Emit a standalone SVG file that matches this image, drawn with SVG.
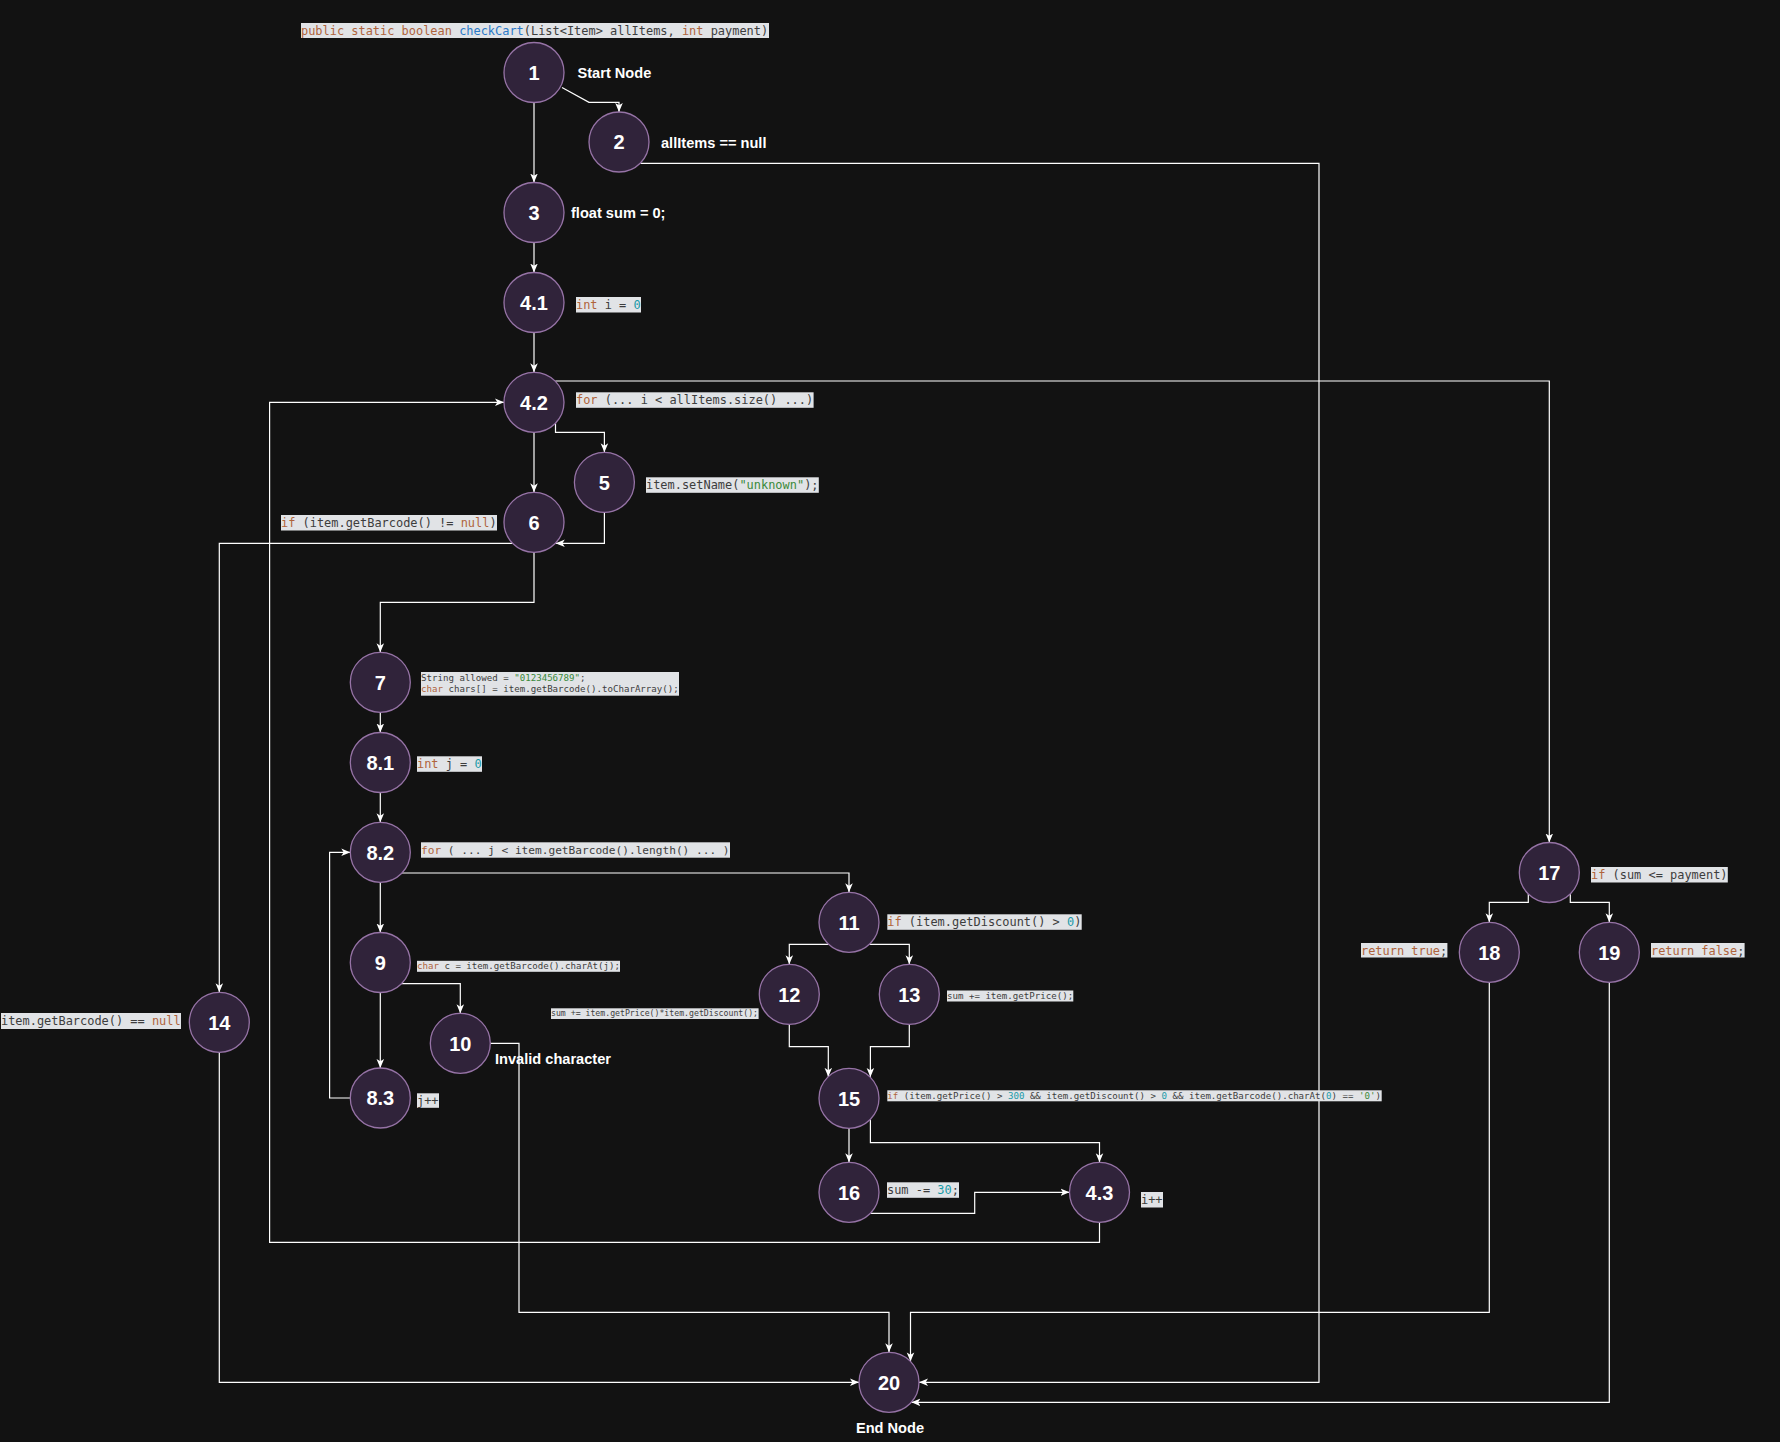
<svg xmlns="http://www.w3.org/2000/svg" width="1780" height="1442" viewBox="0 0 1780 1442">
<defs>
<marker id="arr" viewBox="0 0 10 10" refX="10" refY="5" markerWidth="9" markerHeight="9" markerUnits="userSpaceOnUse" orient="auto">
<path d="M0,0.8 L10,5 L0,9.2 L2.6,5 Z" fill="#ffffff"/>
</marker>
<style>
.node circle{fill:#30233a;stroke:#9673a6;stroke-width:1.3}
.num{font-family:"Liberation Sans",Arial,sans-serif;font-weight:bold;font-size:20px;fill:#ffffff;text-anchor:middle}
.lbl{font-family:"Liberation Sans",Arial,sans-serif;font-weight:bold;font-size:14.6px;fill:#ffffff}
.cb{fill:#e1e3e6}
.code{font-family:"DejaVu Sans Mono","Liberation Mono",monospace;font-size:11.95px;fill:#3d3d3d;white-space:pre}
.k{fill:#b0643c}
.b{fill:#2a79c8}
.n{fill:#1a9aa8}
.s{fill:#3a8a3a}
#edges path{fill:none;stroke:#ffffff;stroke-width:1.2;marker-end:url(#arr)}
</style>
</defs>
<rect x="0" y="0" width="1780" height="1442" fill="#121212"/>

<g id="title">
<rect class="cb" x="301" y="23" width="468" height="15"/>
<text class="code" x="301" y="34.5"><tspan class="k">public static boolean </tspan><tspan class="b">checkCart</tspan><tspan>(List&lt;Item&gt; allItems, </tspan><tspan class="k">int</tspan><tspan> payment)</tspan></text>
</g>

<g id="edges">
<path d="M562,87.5 L589,102.3 L619,102.3 L619,112"/>
<path d="M534,102.5 L534,182.5"/>
<path d="M534,242.5 L534,272.5"/>
<path d="M534,332.5 L534,372.3"/>
<path d="M555.5,423.2 L555.5,432.3 L604.4,432.3 L604.4,452.3"/>
<path d="M534,432.3 L534,492.3"/>
<path d="M604.4,512.3 L604.4,543.3 L555.8,543.3"/>
<path d="M534,552.3 L534,602.3 L380.3,602.3 L380.3,652.3"/>
<path d="M512.6,543.3 L219.3,543.3 L219.3,992.3"/>
<path d="M555.3,381 L1549.3,381 L1549.3,842.5"/>
<path d="M640.4,163.3 L1319,163.3 L1319,1382.3 L919,1382.3"/>
<path d="M380.3,712.3 L380.3,732.5"/>
<path d="M380.3,792.5 L380.3,822.3"/>
<path d="M380.3,882.3 L380.3,932.5"/>
<path d="M402,873 L849,873 L849,892.3"/>
<path d="M401.5,983.7 L460.3,983.7 L460.3,1013.3"/>
<path d="M380.3,992.5 L380.3,1068"/>
<path d="M350.3,1098 L329.6,1098 L329.6,852.3 L350.3,852.3"/>
<path d="M490.3,1043.3 L519,1043.3 L519,1312.3 L889,1312.3 L889,1352.3"/>
<path d="M828.6,944.3 L789.3,944.3 L789.3,964.3"/>
<path d="M869.4,944.3 L909.3,944.3 L909.3,964.3"/>
<path d="M789.3,1024.3 L789.3,1046.7 L828.3,1046.7 L828.3,1076.8"/>
<path d="M909.3,1024.3 L909.3,1046.7 L870.4,1046.7 L870.4,1077"/>
<path d="M849,1128.3 L849,1162.3"/>
<path d="M870.4,1119.3 L870.4,1142.7 L1099.5,1142.7 L1099.5,1162.3"/>
<path d="M870.4,1213.3 L974.7,1213.3 L974.7,1192.3 L1069.5,1192.3"/>
<path d="M1099.5,1222.3 L1099.5,1242.3 L269.6,1242.3 L269.6,402.3 L504,402.3"/>
<path d="M219.3,1052.3 L219.3,1382.3 L859,1382.3"/>
<path d="M1528.3,894 L1528.3,902.3 L1489.3,902.3 L1489.3,922.3"/>
<path d="M1570.3,894 L1570.3,902.3 L1609.3,902.3 L1609.3,922.3"/>
<path d="M1489.3,982.3 L1489.3,1312.3 L910.5,1312.3 L910.5,1361.4"/>
<path d="M1609.3,982.3 L1609.3,1402.3 L911.4,1402.3"/>
</g>

<g id="n1" class="node">
<circle cx="534" cy="72.5" r="30"/>
<text class="num" x="534" y="79.7">1</text>
<text class="lbl" x="577.5" y="77.7">Start Node</text>
</g>
<g id="n2" class="node">
<circle cx="619" cy="142" r="30"/>
<text class="num" x="619" y="149.2">2</text>
<text class="lbl" x="661" y="148">allItems == null</text>
</g>
<g id="n3" class="node">
<circle cx="534" cy="212.5" r="30"/>
<text class="num" x="534" y="219.7">3</text>
<text class="lbl" x="571" y="218">float sum = 0;</text>
</g>
<g id="n4_1" class="node">
<circle cx="534" cy="302.5" r="30"/>
<text class="num" x="534" y="309.7">4.1</text>
<rect class="cb" x="576" y="297" width="65" height="15.5"/>
<text class="code" x="576" y="309"><tspan class="k">int</tspan><tspan> i = </tspan><tspan class="n">0</tspan></text>
</g>
<g id="n4_2" class="node">
<circle cx="534" cy="402.3" r="30"/>
<text class="num" x="534" y="409.5">4.2</text>
<rect class="cb" x="576" y="392.3" width="237.6" height="15.5"/>
<text class="code" x="576" y="404.3"><tspan class="k">for</tspan><tspan> (... i &lt; allItems.size() ...)</tspan></text>
</g>
<g id="n5" class="node">
<circle cx="604.4" cy="482.3" r="30"/>
<text class="num" x="604.4" y="489.5">5</text>
<rect class="cb" x="646" y="477.3" width="172.8" height="15.5"/>
<text class="code" x="646" y="489.3"><tspan>item.setName(</tspan><tspan class="s">"unknown"</tspan><tspan>);</tspan></text>
</g>
<g id="n6" class="node">
<circle cx="534" cy="522.3" r="30"/>
<text class="num" x="534" y="529.5">6</text>
<rect class="cb" x="281" y="515" width="216" height="15.5"/>
<text class="code" x="281" y="527"><tspan class="k">if</tspan><tspan> (item.getBarcode() != </tspan><tspan class="k">null</tspan><tspan>)</tspan></text>
</g>
<g id="n7" class="node">
<circle cx="380.3" cy="682.3" r="30"/>
<text class="num" x="380.3" y="689.5">7</text>
<rect class="cb" x="421" y="672" width="258" height="23.7"/>
<text class="code" style="font-size:9.12px" x="421" y="681.3"><tspan>String allowed = </tspan><tspan class="s">"0123456789"</tspan><tspan>;</tspan></text>
<text class="code" style="font-size:9.12px" x="421" y="692.3"><tspan class="k">char</tspan><tspan> chars[] = item.getBarcode().toCharArray();</tspan></text>
</g>
<g id="n8_1" class="node">
<circle cx="380.3" cy="762.5" r="30"/>
<text class="num" x="380.3" y="769.7">8.1</text>
<rect class="cb" x="417" y="756.3" width="65" height="15.5"/>
<text class="code" x="417" y="768.3"><tspan class="k">int</tspan><tspan> j = </tspan><tspan class="n">0</tspan></text>
</g>
<g id="n8_2" class="node">
<circle cx="380.3" cy="852.3" r="30"/>
<text class="num" x="380.3" y="859.5">8.2</text>
<rect class="cb" x="421" y="842.3" width="309" height="15.4"/>
<text class="code" style="font-size:11.15px" x="421" y="853.8"><tspan class="k">for</tspan><tspan> ( ... j &lt; item.getBarcode().length() ... )</tspan></text>
</g>
<g id="n9" class="node">
<circle cx="380.3" cy="962.5" r="30"/>
<text class="num" x="380.3" y="969.7">9</text>
<rect class="cb" x="417" y="960.8" width="203" height="11"/>
<text class="code" style="font-size:9.12px" x="417" y="969.3"><tspan class="k">char</tspan><tspan> c = item.getBarcode().charAt(j);</tspan></text>
</g>
<g id="n10" class="node">
<circle cx="460.3" cy="1043.3" r="30"/>
<text class="num" x="460.3" y="1050.5">10</text>
<text class="lbl" x="495" y="1064">Invalid character</text>
</g>
<g id="n8_3" class="node">
<circle cx="380.3" cy="1098" r="30"/>
<text class="num" x="380.3" y="1105.2">8.3</text>
<rect class="cb" x="417" y="1093.3" width="22" height="14.5"/>
<text class="code" x="417" y="1105">j++</text>
</g>
<g id="n11" class="node">
<circle cx="849" cy="922.3" r="30"/>
<text class="num" x="849" y="929.5">11</text>
<rect class="cb" x="887.3" y="914.3" width="194.4" height="15.5"/>
<text class="code" x="887.3" y="926.3"><tspan class="k">if</tspan><tspan> (item.getDiscount() &gt; </tspan><tspan class="n">0</tspan><tspan>)</tspan></text>
</g>
<g id="n12" class="node">
<circle cx="789.3" cy="994.3" r="30"/>
<text class="num" x="789.3" y="1001.5">12</text>
<rect class="cb" x="551" y="1008.3" width="207.6" height="10.7"/>
<text class="code" style="font-size:8.2px" x="551" y="1016.3">sum += item.getPrice()*item.getDiscount();</text>
</g>
<g id="n13" class="node">
<circle cx="909.3" cy="994.3" r="30"/>
<text class="num" x="909.3" y="1001.5">13</text>
<rect class="cb" x="947" y="990.5" width="126.3" height="11"/>
<text class="code" style="font-size:9.12px" x="947" y="999">sum += item.getPrice();</text>
</g>
<g id="n14" class="node">
<circle cx="219.3" cy="1022.3" r="30"/>
<text class="num" x="219.3" y="1029.5">14</text>
<rect class="cb" x="1" y="1013" width="180" height="16"/>
<text class="code" x="1" y="1025.3"><tspan>item.getBarcode() == </tspan><tspan class="k">null</tspan></text>
</g>
<g id="n15" class="node">
<circle cx="849" cy="1098.3" r="30"/>
<text class="num" x="849" y="1105.5">15</text>
<rect class="cb" x="887.3" y="1090.3" width="494.4" height="11"/>
<text class="code" style="font-size:9.12px" x="887.3" y="1098.8"><tspan class="k">if</tspan><tspan> (item.getPrice() &gt; </tspan><tspan class="n">300</tspan><tspan> &amp;&amp; item.getDiscount() &gt; </tspan><tspan class="n">0</tspan><tspan> &amp;&amp; item.getBarcode().charAt(</tspan><tspan class="n">0</tspan><tspan>) == </tspan><tspan class="s">'0'</tspan><tspan>)</tspan></text>
</g>
<g id="n16" class="node">
<circle cx="849" cy="1192.3" r="30"/>
<text class="num" x="849" y="1199.5">16</text>
<rect class="cb" x="887" y="1182.3" width="72" height="15.5"/>
<text class="code" x="887" y="1194.3"><tspan>sum -= </tspan><tspan class="n">30</tspan><tspan>;</tspan></text>
</g>
<g id="n4_3" class="node">
<circle cx="1099.5" cy="1192.3" r="30"/>
<text class="num" x="1099.5" y="1199.5">4.3</text>
<rect class="cb" x="1141" y="1192" width="22" height="15.5"/>
<text class="code" x="1141" y="1204">i++</text>
</g>
<g id="n17" class="node">
<circle cx="1549.3" cy="872.5" r="30"/>
<text class="num" x="1549.3" y="879.7">17</text>
<rect class="cb" x="1591" y="867" width="136.8" height="15.5"/>
<text class="code" x="1591" y="879"><tspan class="k">if</tspan><tspan> (sum &lt;= payment)</tspan></text>
</g>
<g id="n18" class="node">
<circle cx="1489.3" cy="952.3" r="30"/>
<text class="num" x="1489.3" y="959.5">18</text>
<rect class="cb" x="1361" y="943" width="86.4" height="14.5"/>
<text class="code" x="1361" y="954.8"><tspan class="k">return true</tspan><tspan>;</tspan></text>
</g>
<g id="n19" class="node">
<circle cx="1609.3" cy="952.3" r="30"/>
<text class="num" x="1609.3" y="959.5">19</text>
<rect class="cb" x="1651" y="943" width="93.6" height="14.5"/>
<text class="code" x="1651" y="954.8"><tspan class="k">return false</tspan><tspan>;</tspan></text>
</g>
<g id="n20" class="node">
<circle cx="889" cy="1382.3" r="30"/>
<text class="num" x="889" y="1389.5">20</text>
<text class="lbl" x="890" y="1432.7" text-anchor="middle">End Node</text>
</g>
</svg>
